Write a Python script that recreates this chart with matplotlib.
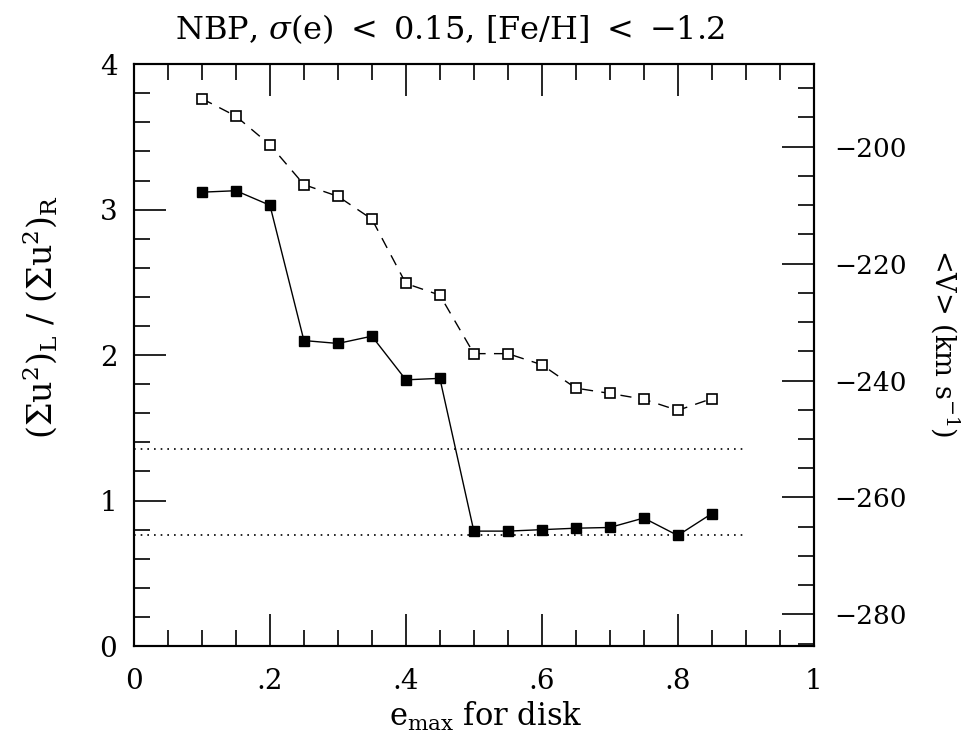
import matplotlib
matplotlib.use('Agg')
import matplotlib.pyplot as plt
from matplotlib.ticker import MultipleLocator, FixedLocator, FixedFormatter

plt.rcParams['font.family'] = ['DejaVu Serif']
plt.rcParams['mathtext.fontset'] = 'dejavuserif'

# e_max cuts for the disk sample
emax = [0.10, 0.15, 0.20, 0.25, 0.30, 0.35, 0.40, 0.45,
        0.50, 0.55, 0.60, 0.65, 0.70, 0.75, 0.80, 0.85]
# (sum u^2)_L / (sum u^2)_R, filled squares, left axis
ratio = [3.12, 3.13, 3.03, 2.10, 2.08, 2.13, 1.83, 1.84,
         0.79, 0.79, 0.80, 0.81, 0.815, 0.88, 0.76, 0.91]
# mean V in km/s, open squares, right axis
vmean = [-191.8, -194.8, -199.7, -206.5, -208.5, -212.4, -223.4, -225.4,
         -235.4, -235.4, -237.3, -241.3, -242.2, -243.2, -245.1, -243.1]
# reference ratio levels (dotted)
ref_levels = [1.355, 0.76]
ref_xmax = 0.9

xticks = [0, 0.2, 0.4, 0.6, 0.8, 1.0]
xticklabels = ['0', '.2', '.4', '.6', '.8', '1']
vticks = [-200, -220, -240, -260, -280]

fig = plt.figure(figsize=(9.71, 7.46), dpi=100)
ax = fig.add_axes([0.138, 0.134, 0.700, 0.780])
ax2 = ax.twinx()

for lev in ref_levels:
    ax.plot([0, ref_xmax], [lev, lev], color='black', lw=1.2,
            linestyle=(0, (1, 3)))

ax.plot(emax, ratio, color='black', lw=1.0, marker='s', ms=6.5,
        mfc='black', mec='black')
ax2.plot(emax, vmean, color='black', lw=1.0, dashes=(8, 6), marker='s',
         ms=6.5, mfc='white', mec='black', mew=1.2)

ax.set_xlim(0, 1)
ax.set_ylim(0, 4)
ax2.set_ylim(-285.4, -185.9)

ax.xaxis.set_major_locator(FixedLocator(xticks))
ax.xaxis.set_major_formatter(FixedFormatter(xticklabels))
ax.xaxis.set_minor_locator(MultipleLocator(0.05))
ax.yaxis.set_major_locator(MultipleLocator(1))
ax.yaxis.set_minor_locator(MultipleLocator(0.2))
ax2.yaxis.set_major_locator(FixedLocator(vticks))
ax2.yaxis.set_minor_locator(MultipleLocator(5))
ax2.set_yticklabels([u'\u2212%d' % (-v) for v in vticks])

ax.tick_params(which='both', direction='in', top=True, right=False,
               width=1.2, labelsize=20)
ax.tick_params(which='major', length=23)
ax.tick_params(which='minor', length=11.5)
ax.tick_params(axis='x', pad=16)
ax.tick_params(axis='y', pad=12)
ax2.tick_params(which='both', direction='in', width=1.2, labelsize=19, pad=15)
ax2.tick_params(which='major', length=23)
ax2.tick_params(which='minor', length=11.5)

for a in (ax, ax2):
    for s in a.spines.values():
        s.set_linewidth(1.5)

fig.text(450 / 971, 1 - 29 / 746,
         r'NBP, $\sigma$(e) $<$ 0.15, [Fe/H] $<$ $-$1.2',
         ha='center', va='center', fontsize=23)
fig.text(486 / 971, 1 - 716 / 746, r'e$_{\rm max}$ for disk',
         ha='center', va='center', fontsize=22)
fig.text(40 / 971, 1 - 317 / 746,
         r'($\Sigma$u$^2$)$_{\rm L}$ / ($\Sigma$u$^2$)$_{\rm R}$',
         ha='center', va='center', rotation=90, fontsize=24)
fig.text(945 / 971, 1 - 343 / 746, r'<V> (km s$^{-1}$)',
         ha='center', va='center', rotation=270, fontsize=19.5)

fig.savefig('out.png', dpi=100)
